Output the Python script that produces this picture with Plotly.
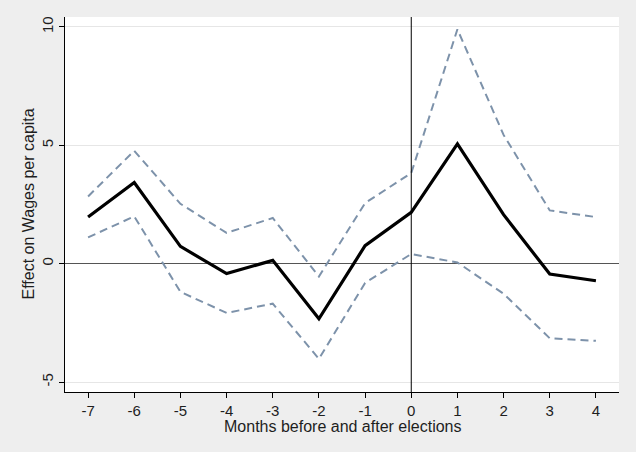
import plotly.graph_objects as go

months = [-7, -6, -5, -4, -3, -2, -1, 0, 1, 2, 3, 4]
month_labels = ["-7", "-6", "-5", "-4", "-3", "-2", "-1", "0", "1", "2", "3", "4"]
effect = [1.97, 3.43, 0.73, -0.42, 0.14, -2.33, 0.76, 2.17, 5.06, 2.07, -0.44, -0.72]
upper_ci = [2.84, 4.77, 2.53, 1.30, 1.93, -0.54, 2.56, 3.83, 9.90, 5.44, 2.25, 1.97]
lower_ci = [1.11, 2.00, -1.19, -2.08, -1.69, -4.02, -0.81, 0.41, 0.05, -1.27, -3.15, -3.26]
y_ticks = [-5, 0, 5, 10]
y_labels = ["-5", "0", "5", "10"]

FONT = "Liberation Sans, Arial, sans-serif"
CI_COLOR = "#7d92aa"
TXT = "#1e1e1e"

fig = go.Figure()
fig.add_trace(go.Scatter(x=months, y=upper_ci, mode="lines",
                         line=dict(color=CI_COLOR, width=2, dash="8px,5px"), showlegend=False))
fig.add_trace(go.Scatter(x=months, y=lower_ci, mode="lines",
                         line=dict(color=CI_COLOR, width=2, dash="8px,5px"), showlegend=False))
fig.add_trace(go.Scatter(x=months, y=effect, mode="lines",
                         line=dict(color="black", width=3.2), showlegend=False))

fig.add_shape(type="line", xref="x", yref="paper", x0=0, x1=0, y0=0, y1=1,
              line=dict(color="black", width=1))
# thin white strip at bottom of frame
fig.add_shape(type="rect", xref="paper", yref="paper", x0=-1, x1=2,
              y0=-64 / 375, y1=-60 / 375, fillcolor="white", line=dict(width=0), layer="below")

fig.add_annotation(text="Effect on Wages per capita", xref="paper", yref="paper",
                   x=-37 / 554, y=0.5, textangle=-90, showarrow=False,
                   font=dict(family=FONT, size=16, color=TXT), xanchor="center", yanchor="middle")
fig.add_annotation(text="Months before and after elections", xref="paper", yref="paper",
                   x=0.5, y=-34 / 375, showarrow=False,
                   font=dict(family=FONT, size=16, color=TXT), xanchor="center", yanchor="middle")

fig.update_layout(
    width=636, height=456,
    margin=dict(l=65, r=17, t=17, b=64),
    paper_bgcolor="#eeeeee", plot_bgcolor="white",
    font=dict(family=FONT, size=15, color=TXT),
    hovermode=False,
    xaxis=dict(range=[-7.5, 4.5], tickvals=months, ticktext=month_labels,
               ticks="outside", ticklen=5, tickcolor="black",
               showline=True, linecolor="black", linewidth=1, automargin=False,
               showgrid=False, zeroline=False, mirror=False),
    yaxis=dict(range=[-5.42, 10.42], tickvals=y_ticks, ticktext=y_labels,
               ticks="outside", ticklen=5, tickcolor="black",
               showline=True, linecolor="black", linewidth=1, automargin=False,
               showgrid=True, gridcolor="#e6e6e6", gridwidth=1,
               zeroline=True, zerolinecolor="#555555", zerolinewidth=1,
               tickangle=-90, mirror=False),
)

fig.write_html(
    "out.html",
    config={"displayModeBar": False, "staticPlot": True},
    post_script="document.body.style.margin='0';document.body.style.padding='0';"
                "document.body.style.background='#eeeeee';document.body.style.overflow='hidden';",
)
